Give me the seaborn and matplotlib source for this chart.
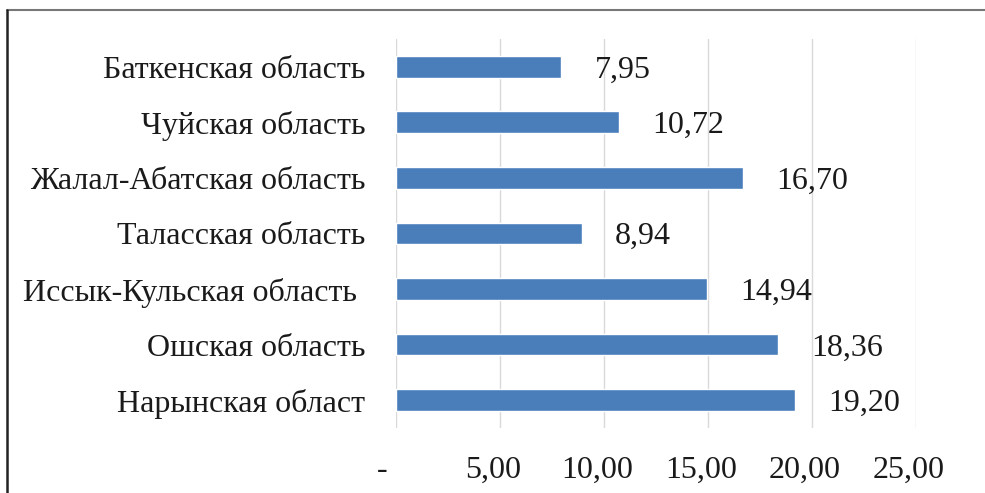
import pandas as pd
import seaborn as sns
import matplotlib.pyplot as plt
from matplotlib.lines import Line2D
from matplotlib.transforms import ScaledTranslation

# ===============================
# DATA
# ===============================
regions = [
    "Баткенская область",
    "Чуйская область",
    "Жалал-Абатская область",
    "Таласская область",
    "Иссык-Кульская область ",
    "Ошская область",
    "Нарынская област",
]
values = [7.95, 10.72, 16.70, 8.94, 14.94, 18.36, 19.20]
x_ticks = [0, 5, 10, 15, 20, 25]
x_tick_labels = ["-", "5,00", "10,00", "15,00", "20,00", "25,00"]

df = pd.DataFrame({"region": regions, "value": values})

# ===============================
# STYLE
# ===============================
sns.set_style("white")
plt.rcParams["font.family"] = ["Liberation Serif", "DejaVu Serif"]
FS = 23

fig = plt.figure(figsize=(9.85, 4.93), dpi=100)
ax = fig.add_axes([0.402, 0.132, 0.528, 0.789])

sns.barplot(data=df, x="value", y="region", orient="h", color="#4a7ebb",
            saturation=1, width=0.39, ax=ax)

# value labels
for i, v in enumerate(values):
    ax.text(v + 1.6, i + 0.06, f"{v:.2f}".replace(".", ","), va="center",
            ha="left", fontsize=FS, color="#1a1a1a")

ax.set_xlim(0, 25)
ax.set_ylim(6.5, -0.5)
ax.set_xticks(x_ticks)
ax.set_xticklabels(x_tick_labels, fontsize=FS, color="#1a1a1a")
ax.tick_params(axis="y", labelsize=FS, pad=22, length=0, labelcolor="#1a1a1a")
ax.tick_params(axis="x", pad=20, length=0)
ax.set_xlabel("")
ax.set_ylabel("")
ax.grid(axis="x", color="#d9d9d9", linewidth=1)
ax.set_axisbelow(True)
for s in ax.spines.values():
    s.set_visible(False)

# accounting-style label padding: shift x tick labels a little to the left
for lab in ax.get_xticklabels():
    dx = -14 if lab.get_text() == "-" else -7
    lab.set_transform(lab.get_transform() + ScaledTranslation(dx / 100, 0, fig.dpi_scale_trans))

# outer frame (only top and left edges visible)
fig.lines.append(Line2D([0.007, 1.0], [0.980, 0.980], transform=fig.transFigure,
                        color="#777777", linewidth=1.5))
fig.lines.append(Line2D([0.007, 0.007], [0.0, 0.980], transform=fig.transFigure,
                        color="#222222", linewidth=1.8))

fig.savefig("out.png", dpi=100)
